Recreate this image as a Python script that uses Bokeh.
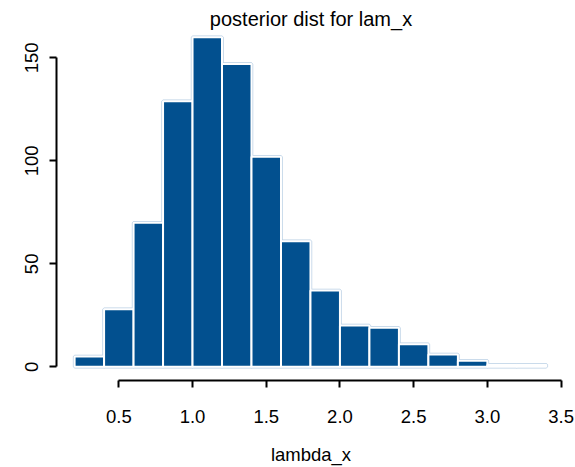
from bokeh.plotting import figure
from bokeh.models import Range1d, LinearAxis, FixedTicker, CustomJSTickFormatter
from bokeh.embed import file_html
from bokeh.resources import INLINE

# ---- data ----
bin_left = [0.2, 0.4, 0.6, 0.8, 1.0, 1.2, 1.4, 1.6, 1.8, 2.0, 2.2, 2.4, 2.6, 2.8, 3.0, 3.2]
bin_right = [0.4, 0.6, 0.8, 1.0, 1.2, 1.4, 1.6, 1.8, 2.0, 2.2, 2.4, 2.6, 2.8, 3.0, 3.2, 3.4]
counts = [5, 28, 70, 129, 160, 147, 102, 61, 37, 20, 19, 11, 6, 3, 1, 1]
x_ticks = [0.5, 1.0, 1.5, 2.0, 2.5, 3.0, 3.5]
y_ticks = [0, 50, 100, 150]
title_text = "posterior dist for lam_x"
x_label = "lambda_x"

FONT = "Liberation Sans"
BAR = "#02508f"

p = figure(width=575, height=467, output_backend="svg", toolbar_location=None,
           x_range=Range1d(0.0772, 3.530), y_range=Range1d(-6.65, 163.3),
           min_border_left=56, min_border_right=10, min_border_top=30, min_border_bottom=87,
           x_axis_location=None, y_axis_location=None)
p.grid.visible = False
p.outline_line_color = None
p.background_fill_color = "white"
p.border_fill_color = "white"

p.title.text = title_text
p.title.align = "center"
p.title.text_font = FONT
p.title.text_font_size = "20px"
p.title.text_font_style = "normal"
p.title.text_color = "black"
p.title.standoff = 2

bottoms = [0] * len(counts)
# outer soft edge
p.quad(left=bin_left, right=bin_right, top=counts, bottom=bottoms,
       fill_color=None, line_color="#b9cfe4", line_width=3.5)
p.quad(left=bin_left, right=bin_right, top=counts, bottom=bottoms,
       fill_color=BAR, line_color="white", line_width=2)

def style(ax):
    ax.axis_line_width = 2
    ax.axis_line_color = "black"
    ax.major_tick_line_width = 2
    ax.major_tick_line_color = "black"
    ax.major_tick_out = 7
    ax.major_tick_in = 0
    ax.minor_tick_out = 0
    ax.minor_tick_in = 0
    ax.major_label_text_font = FONT
    ax.major_label_text_font_size = "18.5px"
    ax.major_label_text_color = "black"

xax = LinearAxis(ticker=FixedTicker(ticks=x_ticks), bounds=(x_ticks[0], x_ticks[-1]))
style(xax)
xax.formatter = CustomJSTickFormatter(code="return tick.toFixed(1);")
xax.major_label_standoff = 22
xax.axis_label = x_label
xax.axis_label_text_font = FONT
xax.axis_label_text_font_size = "18.5px"
xax.axis_label_text_font_style = "normal"
xax.axis_label_text_color = "black"
xax.axis_label_standoff = 18
p.add_layout(xax, "below")

yax = LinearAxis(ticker=FixedTicker(ticks=y_ticks), bounds=(y_ticks[0], y_ticks[-1]))
style(yax)
yax.major_label_orientation = "vertical"
yax.major_label_standoff = 11
p.add_layout(yax, "left")

open("out.html", "w").write(file_html(p, INLINE))
